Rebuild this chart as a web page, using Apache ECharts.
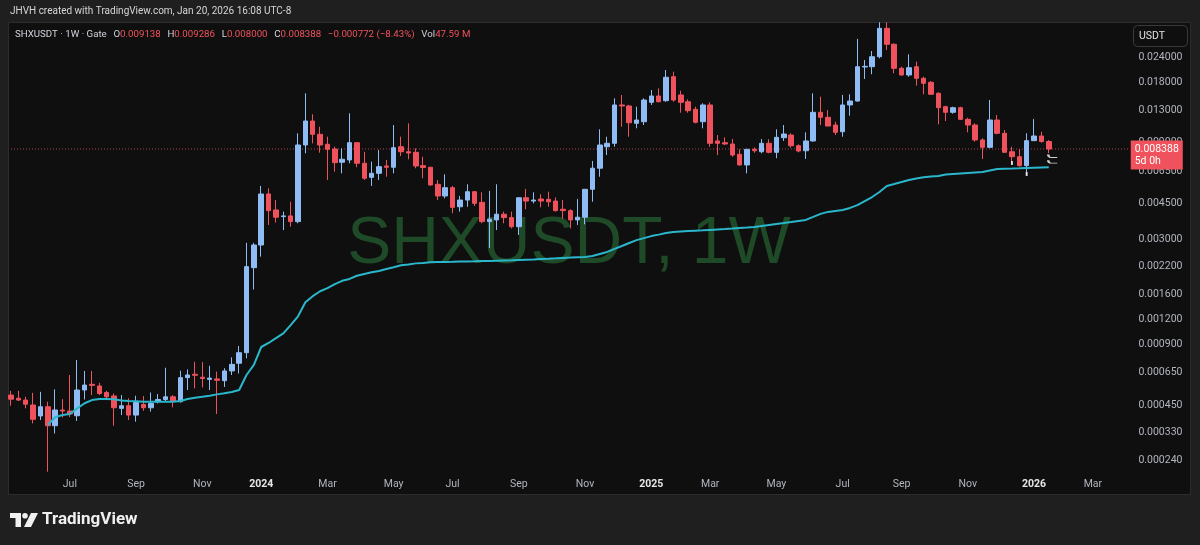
<!DOCTYPE html>
<html><head><meta charset="utf-8">
<script src="https://cdn.jsdelivr.net/npm/echarts@6/dist/echarts.min.js"></script>
<style>html,body{margin:0;padding:0;background:#1f1f1f}#c{width:1200px;height:545px}</style>
</head><body><div id="c"></div>
<script>
// ---- data (weekly SHX/USDT, Gate) ----
const firstWeek = '2023-05-08';
const totalSlots = 153;
const open = [0.000504,0.000486,0.000476,0.000450,0.000397,0.000441,0.000355,0.000425,0.000420,0.000398,
0.000534,0.000570,0.000559,0.000519,0.000499,0.000433,0.000446,0.000401,0.000453,0.000436,
0.000467,0.000479,0.000494,0.000467,0.000615,0.000639,0.000618,0.000603,0.000606,0.000594,
0.000664,0.000725,0.000818,0.002162,0.002800,0.005017,0.004180,0.003874,0.003905,0.003658,
0.008780,0.011547,0.009919,0.008850,0.008385,0.007208,0.007400,0.009014,0.007127,0.006068,
0.006352,0.006910,0.006808,0.008610,0.008130,0.008075,0.006934,0.006808,0.005604,0.004903,
0.005390,0.004335,0.004680,0.005149,0.004558,0.003658,0.003730,0.003982,0.003830,0.003452,
0.004805,0.004627,0.004734,0.004718,0.004627,0.004213,0.004147,0.003730,0.003847,0.005292,
0.006734,0.008610,0.008952,0.013870,0.013710,0.011246,0.011455,0.014298,0.015373,0.014562,
0.019163,0.015550,0.014397,0.013205,0.011455,0.013870,0.009194,0.009014,0.008880,0.007893,
0.006990,0.008356,0.008130,0.008952,0.008075,0.009541,0.009840,0.008710,0.008224,0.009194,
0.012757,0.012048,0.011030,0.010219,0.013870,0.014513,0.021406,0.021477,0.024076,0.033310,
0.027750,0.021096,0.019540,0.021477,0.018812,0.017970,0.015855,0.013602,0.012757,0.013448,
0.011773,0.011030,0.009300,0.008550,0.011680,0.010033,0.008130,0.007679,0.006934,0.009226,
0.009730,0.009138];
const high = [0.000529,0.000529,0.000494,0.000517,0.000523,0.000467,0.000538,0.000481,0.000634,0.000752,
0.000664,0.000664,0.000580,0.000529,0.000513,0.000504,0.000486,0.000500,0.000499,0.000519,
0.000510,0.000689,0.000504,0.000666,0.000676,0.000737,0.000735,0.000704,0.000659,0.000685,
0.000775,0.000883,0.002870,0.002870,0.005500,0.005353,0.004680,0.004100,0.004590,0.010033,
0.015855,0.012469,0.010817,0.009650,0.008610,0.008452,0.012612,0.009050,0.008130,0.007257,
0.008290,0.007400,0.011030,0.009650,0.011246,0.008452,0.007679,0.006830,0.005890,0.006280,
0.005500,0.004903,0.005604,0.005190,0.005114,0.005190,0.005604,0.004100,0.004100,0.004830,
0.005310,0.005114,0.005000,0.005149,0.004826,0.004680,0.004213,0.004734,0.005300,0.007316,
0.010503,0.009650,0.014968,0.015550,0.013900,0.013602,0.014968,0.016460,0.016783,0.020690,
0.020290,0.016328,0.014797,0.013602,0.014142,0.014298,0.009840,0.009584,0.009407,0.008356,
0.008380,0.008550,0.009407,0.009374,0.010503,0.011030,0.010033,0.008850,0.010148,0.015855,
0.015250,0.013100,0.011455,0.015550,0.015674,0.029485,0.023190,0.025704,0.035687,0.035687,
0.028070,0.021477,0.024746,0.022742,0.019163,0.018240,0.016037,0.013759,0.013602,0.013602,
0.011989,0.011246,0.009476,0.014680,0.012370,0.010420,0.008610,0.008385,0.010033,0.011810,
0.010219,0.009286];
const low = [0.000446,0.000471,0.000433,0.000365,0.000379,0.000210,0.000325,0.000390,0.000392,0.000375,
0.000479,0.000504,0.000504,0.000486,0.000355,0.000401,0.000379,0.000372,0.000421,0.000417,
0.000458,0.000467,0.000438,0.000463,0.000534,0.000544,0.000550,0.000534,0.000406,0.000553,
0.000634,0.000645,0.000767,0.001683,0.002452,0.003520,0.003617,0.003320,0.003452,0.003589,
0.007983,0.008952,0.008038,0.005890,0.006473,0.006352,0.007127,0.006808,0.005890,0.005500,
0.005890,0.006110,0.006352,0.007740,0.007459,0.006730,0.006005,0.005516,0.004680,0.004772,
0.004027,0.004100,0.004335,0.004370,0.003589,0.002705,0.003320,0.003589,0.003385,0.003140,
0.004213,0.004507,0.004305,0.004335,0.004100,0.003786,0.003385,0.003520,0.003548,0.004590,
0.006110,0.007830,0.008610,0.010817,0.009650,0.010624,0.011030,0.013870,0.014298,0.014397,
0.014397,0.012699,0.012699,0.011246,0.010624,0.008610,0.007830,0.008780,0.007679,0.006934,
0.006352,0.008038,0.007983,0.007983,0.007545,0.009194,0.008510,0.008075,0.007485,0.009120,
0.011030,0.010900,0.009840,0.009650,0.012271,0.014397,0.018662,0.019696,0.023645,0.026000,
0.019923,0.019384,0.019163,0.017290,0.015674,0.015550,0.011118,0.011547,0.012556,0.011680,
0.010148,0.009120,0.007485,0.008452,0.009919,0.008010,0.007046,0.006855,0.006230,0.009194,
0.009014,0.008000];
const close = [0.000481,0.000476,0.000454,0.000382,0.000441,0.000355,0.000425,0.000420,0.000406,0.000534,
0.000565,0.000563,0.000513,0.000494,0.000436,0.000446,0.000401,0.000463,0.000436,0.000458,
0.000479,0.000494,0.000471,0.000615,0.000634,0.000632,0.000609,0.000612,0.000597,0.000664,
0.000716,0.000818,0.002187,0.002800,0.005017,0.004147,0.003847,0.003905,0.003658,0.008780,
0.011547,0.009919,0.008780,0.008356,0.007175,0.007459,0.009014,0.007127,0.006005,0.006352,
0.006855,0.006808,0.008510,0.008130,0.008010,0.006910,0.006793,0.005560,0.004903,0.005390,
0.004305,0.004680,0.005149,0.004507,0.003658,0.003760,0.003982,0.003830,0.003452,0.004805,
0.004627,0.004680,0.004627,0.004590,0.004147,0.004147,0.003730,0.003847,0.005292,0.006734,
0.008780,0.008952,0.013870,0.013710,0.011323,0.011680,0.014680,0.015373,0.014397,0.019032,
0.014680,0.014298,0.012995,0.011376,0.013870,0.008952,0.008952,0.008880,0.007830,0.006990,
0.008356,0.008224,0.008952,0.008075,0.009584,0.009953,0.008710,0.008196,0.009194,0.012757,
0.012048,0.010900,0.010148,0.013870,0.014513,0.021477,0.021575,0.024076,0.033310,0.027750,
0.021096,0.019540,0.021234,0.018812,0.017772,0.015674,0.013448,0.012757,0.013448,0.011773,
0.011030,0.009300,0.008550,0.011680,0.010033,0.008075,0.007679,0.006934,0.009226,0.009730,
0.009138,0.008388];
// cyan trend line (starts at week 6)
const trendLine = [null,null,null,null,null,0.000358,0.000391,0.000401,0.000406,0.000433,
0.000459,0.000476,0.000482,0.000482,0.000480,0.000474,0.000471,0.000469,0.000467,0.000467,
0.000467,0.000467,0.000467,0.000471,0.000482,0.000489,0.000494,0.000500,0.000508,0.000514,
0.000522,0.000534,0.000634,0.000711,0.000873,0.000914,0.000967,0.001020,0.001120,0.001240,
0.001456,0.001560,0.001650,0.001710,0.001790,0.001860,0.001900,0.001970,0.002010,0.002050,
0.002080,0.002130,0.002170,0.002220,0.002240,0.002270,0.002280,0.002300,0.002307,0.002307,
0.002310,0.002320,0.002320,0.002325,0.002334,0.002334,0.002340,0.002345,0.002350,0.002360,
0.002368,0.002376,0.002387,0.002395,0.002404,0.002415,0.002425,0.002436,0.002442,0.002470,
0.002529,0.002587,0.002677,0.002768,0.002864,0.002960,0.003029,0.003100,0.003153,0.003209,
0.003246,0.003265,0.003284,0.003300,0.003313,0.003328,0.003343,0.003358,0.003377,0.003397,
0.003416,0.003436,0.003479,0.003520,0.003561,0.003601,0.003643,0.003687,0.003730,0.003859,
0.003995,0.004088,0.004134,0.004180,0.004278,0.004420,0.004627,0.004845,0.005131,0.005500,
0.005624,0.005754,0.005890,0.005992,0.006072,0.006124,0.006159,0.006266,0.006302,0.006338,
0.006374,0.006411,0.006447,0.006563,0.006676,0.006692,0.006708,0.006731,0.006755,0.006778,
0.006795,0.006811];
// small white drawing marks near the latest bars: [bar index, price]
const dotMarks = [[136, 0.00715], [138, 0.00630]];
const hookMarks = [[141, 0.00774], [141, 0.00726]];
const priceTicks = [0.024,0.018,0.013,0.009,0.0065,0.0045,0.003,0.0022,0.0016,0.0012,0.0009,0.00065,0.00045,0.00033,0.00024];
const priceMin = 0.00020925, priceMax = 0.035802;
const lastPrice = 0.008388;
const countdown = '5d 0h';
const monthNames = ['Jan','Feb','Mar','Apr','May','Jun','Jul','Aug','Sep','Oct','Nov','Dec'];

// ---- build ----
const dates = [];
const t0 = Date.parse(firstWeek + 'T00:00:00Z');
for (let i = 0; i < totalSlots; i++) dates.push(new Date(t0 + i * 7 * 864e5).toISOString().slice(0, 10));
function tickLabel(i) {
  if (i === 0) return null;
  const m = +dates[i].slice(5, 7) - 1, pm = +dates[i - 1].slice(5, 7) - 1;
  if (m === pm || m % 2 !== 0) return null;
  return m === 0 ? '{y|' + dates[i].slice(0, 4) + '}' : monthNames[m];
}
const candles = open.map((o, i) => [o, close[i], low[i], high[i]]);
const lastLine = dates.map(() => lastPrice);

const UP = '#8fbcf5', DOWN = '#f0525d';
const FONT = 'Roboto, "Noto Sans", sans-serif';
const chart = echarts.init(document.getElementById('c'), null, {renderer: 'canvas'});
chart.setOption({
  backgroundColor: '#1f1f1f',
  animation: false,
  textStyle: {fontFamily: FONT},
  grid: {left: 7.3, top: 22, width: 1126.1, height: 450},
  xAxis: {
    type: 'category', data: dates, boundaryGap: true,
    axisLine: {show: false}, axisTick: {show: false}, splitLine: {show: false},
    axisLabel: {
      interval: (i) => !!tickLabel(i),
      formatter: (v, i) => tickLabel(i) || '',
      color: '#b2b5be', fontSize: 10.5, margin: 7, fontFamily: FONT,
      rich: {y: {fontWeight: 'bold', color: '#e6e6e6', fontSize: 10.5, fontFamily: FONT}}
    }
  },
  yAxis: {
    type: 'log', logBase: 10, position: 'right', min: priceMin, max: priceMax,
    axisLine: {show: false}, axisTick: {show: false}, splitLine: {show: false},
    axisLabel: {
      customValues: priceTicks,
      formatter: (v) => Number(v).toFixed(6),
      color: '#b2b5be', fontSize: 10.5, margin: 5, fontFamily: FONT
    }
  },
  series: [
    {
      type: 'line', data: lastLine, symbol: 'none', z: 2, silent: true,
      lineStyle: {color: '#b2454d', type: [1, 2], width: 1},
      endLabel: {
        show: true, distance: 1, offset: [0, 6],
        formatter: lastPrice.toFixed(6) + '\n' + countdown,
        backgroundColor: '#f0525d', color: '#ffffff', padding: [3, 4, 2, 4],
        fontSize: 10.5, lineHeight: 12, fontFamily: FONT
      }
    },
    {
      type: 'candlestick', data: candles, barWidth: 5, z: 3,
      itemStyle: {color: UP, color0: DOWN, borderColor: UP, borderColor0: DOWN, borderWidth: 1}
    },
    {
      type: 'line', data: trendLine, symbol: 'none', z: 4,
      lineStyle: {color: '#2ab7cc', width: 2}, connectNulls: false
    },
    {
      type: 'scatter', data: dotMarks, z: 5, silent: true,
      symbol: 'rect', symbolSize: [2, 4], itemStyle: {color: '#ffffff'}
    },
    {
      type: 'scatter', data: hookMarks, z: 5, silent: true,
      symbol: 'path://M0,0 Q0,4 4,4 L12,4', symbolSize: [9, 3], symbolOffset: [4, 0],
      itemStyle: {color: 'none', borderColor: '#ffffff', borderWidth: 1.5}
    }
  ],
  graphic: [
    {type: 'rect', z: -10, shape: {x: 8.5, y: 22.5, width: 1182, height: 472},
      style: {fill: '#0f0f0f', stroke: '#2c2c2c', lineWidth: 1}},
    {type: 'text', z: -5, x: 569, y: 245,
      style: {text: 'SHXUSDT, 1W', font: '66px "Liberation Sans", Arial, sans-serif', fill: '#1f4a27',
        textAlign: 'center', textVerticalAlign: 'middle'}},
    {type: 'text', x: 10, y: 11,
      style: {text: 'JHVH created with TradingView.com, Jan 20, 2026 16:08 UTC-8',
        font: '10px ' + FONT, fill: '#d6d6d6', textVerticalAlign: 'middle'}},
    {type: 'text', x: 15, y: 35,
      style: {
        text: '{n|SHXUSDT · 1W · Gate}  {n|O}{r|0.009138}  {n|H}{r|0.009286}  {n|L}{r|0.008000}  {n|C}{r|0.008388}  {r|−0.000772 (−8.43%)}  {n|Vol}{r|47.59 M}',
        textVerticalAlign: 'middle',
        rich: {
          n: {fontSize: 9.7, fill: '#d1d4dc', fontFamily: FONT},
          r: {fontSize: 9.7, fill: '#f0525d', fontFamily: FONT}
        }
      }},
    {type: 'rect', shape: {x: 1133.5, y: 25.5, width: 54, height: 21, r: 4},
      style: {fill: '#0f0f0f', stroke: '#3a3a3a', lineWidth: 1}},
    {type: 'text', x: 1152, y: 36,
      style: {text: 'USDT', font: '10.5px ' + FONT, fill: '#e0e0e0', textAlign: 'center', textVerticalAlign: 'middle'}},
    // TradingView logo
    {type: 'rect', shape: {x: 10, y: 513, width: 11, height: 5}, style: {fill: '#f0f0f0'}},
    {type: 'rect', shape: {x: 15.5, y: 513, width: 5.5, height: 14}, style: {fill: '#f0f0f0'}},
    {type: 'circle', shape: {cx: 25, cy: 515.8, r: 2.8}, style: {fill: '#f0f0f0'}},
    {type: 'polygon', shape: {points: [[31, 513], [38, 513], [31, 527], [24, 527]]}, style: {fill: '#f0f0f0'}},
    {type: 'text', x: 42, y: 520,
      style: {text: 'TradingView', font: 'bold 17px ' + FONT, fill: '#f0f0f0', textVerticalAlign: 'middle'}}
  ]
});
</script></body></html>
